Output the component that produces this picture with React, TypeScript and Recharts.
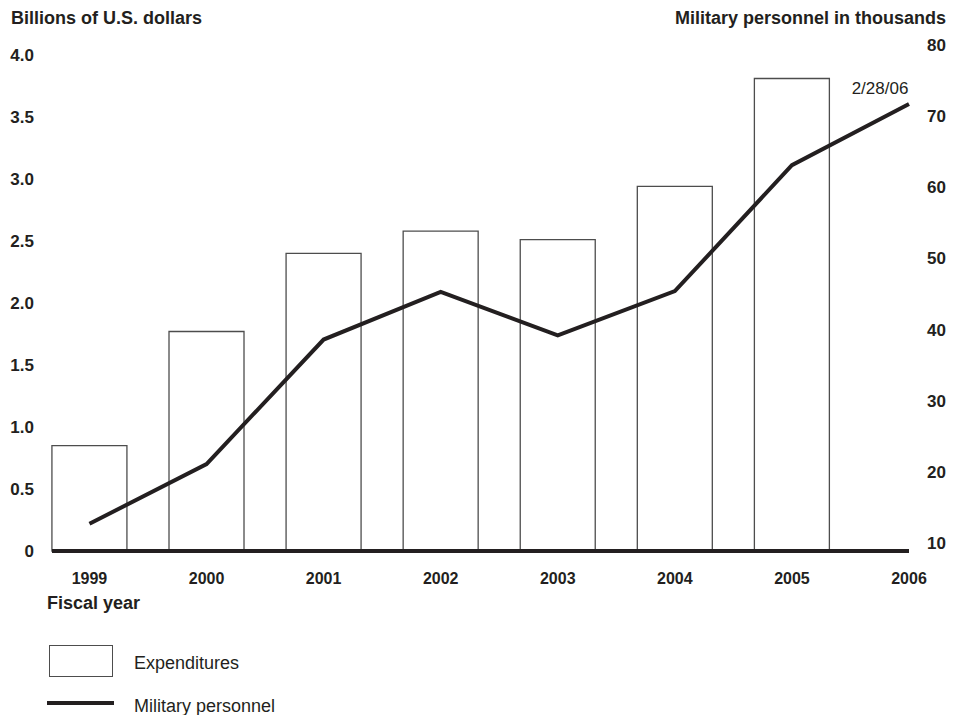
import {
  ComposedChart,
  Bar,
  Line,
  XAxis,
  YAxis,
  LabelList,
} from "recharts";

// fiscal years, expenditures (billions USD) and personnel (thousands)
const years = [1999, 2000, 2001, 2002, 2003, 2004, 2005, 2006];
const expenditures = [0.85, 1.77, 2.4, 2.58, 2.51, 2.94, 3.81, null];
const personnel = [12.7, 21.1, 38.6, 45.3, 39.2, 45.4, 63.1, 71.7];

const leftTicks = [0, 0.5, 1.0, 1.5, 2.0, 2.5, 3.0, 3.5, 4.0];
const rightTicks = [10, 20, 30, 40, 50, 60, 70, 80];

const data = years.map((year, i) => ({
  year,
  expenditures: expenditures[i],
  personnel: personnel[i],
}));

const FONT = "'Liberation Sans', Arial, Helvetica, sans-serif";
const INK = "#231f20";

const boldTick = { fill: INK, fontSize: 17, fontWeight: 700, fontFamily: FONT };

const titleStyle = {
  position: "absolute" as const,
  top: 8,
  fontFamily: FONT,
  fontSize: 18,
  fontWeight: 700,
  color: INK,
  lineHeight: "20px",
};

// legend drawn outside the chart so it does not shrink the plot
const ChartLegend = () => (
  <div
    style={{
      position: "absolute",
      left: 49,
      top: 645,
      fontFamily: FONT,
      fontSize: 18,
      color: INK,
    }}
  >
    <div style={{ display: "flex", alignItems: "center", height: 32 }}>
      <span
        style={{
          display: "inline-block",
          width: 64,
          height: 32,
          border: "1.3px solid #4d4d4d",
          boxSizing: "border-box",
          background: "#fff",
        }}
      />
      <span style={{ marginLeft: 21, position: "relative", top: 2 }}>Expenditures</span>
    </div>
    <div style={{ display: "flex", alignItems: "center", height: 28, marginTop: 12 }}>
      <span style={{ display: "inline-block", width: 67, height: 4, background: INK, marginLeft: -2 }} />
      <span style={{ marginLeft: 20, position: "relative", top: 3 }}>Military personnel</span>
    </div>
  </div>
);

// only the last point carries the date note
const DateLabel = (props: any) => {
  const { x, y, index } = props;
  if (index !== years.length - 1) return null;
  return (
    <text x={x - 29} y={y - 10} textAnchor="middle" fontFamily={FONT} fontSize={17} fill={INK}>
      2/28/06
    </text>
  );
};

export default function App() {
  return (
    <div style={{ position: "absolute", left: 0, top: 0, width: 961, height: 715, background: "#fff" }}>
      <div style={{ ...titleStyle, left: 11 }}>Billions of U.S. dollars</div>
      <div style={{ ...titleStyle, right: 15 }}>Military personnel in thousands</div>
      <div style={{ ...titleStyle, left: 47, top: 593 }}>Fiscal year</div>
      <ComposedChart
        width={961}
        height={715}
        data={data}
        margin={{ top: 45, right: 0, left: 0, bottom: 134 }}
      >
        <XAxis
          dataKey="year"
          type="number"
          domain={[1998.68, 2006]}
          ticks={years}
          axisLine={{ stroke: INK, strokeWidth: 4 }}
          tickLine={false}
          tickSize={0}
          tickMargin={22}
          tick={{ fill: INK, fontSize: 16, fontWeight: 700, fontFamily: FONT }}
          height={30}
        />
        <YAxis
          yAxisId="left"
          orientation="left"
          width={52}
          domain={[0, 4.08]}
          ticks={leftTicks}
          tickFormatter={(v) => (v === 0 ? "0" : v.toFixed(1))}
          axisLine={false}
          tickLine={false}
          tickSize={0}
          tickMargin={18}
          tick={boldTick}
        />
        <YAxis
          yAxisId="right"
          orientation="right"
          width={52}
          domain={[8.875, 80]}
          ticks={rightTicks}
          axisLine={false}
          tickLine={false}
          tickSize={0}
          tickMargin={18}
          tick={boldTick}
        />
        <Bar
          yAxisId="left"
          dataKey="expenditures"
          name="Expenditures"
          fill="#fff"
          stroke="#4d4d4d"
          strokeWidth={1.3}
          barSize={75}
          isAnimationActive={false}
        />
        <Line
          yAxisId="right"
          dataKey="personnel"
          name="Military personnel"
          stroke={INK}
          strokeWidth={4}
          dot={false}
          activeDot={false}
          isAnimationActive={false}
        >
          <LabelList dataKey="personnel" content={<DateLabel />} />
        </Line>
      </ComposedChart>
      <ChartLegend />
    </div>
  );
}
